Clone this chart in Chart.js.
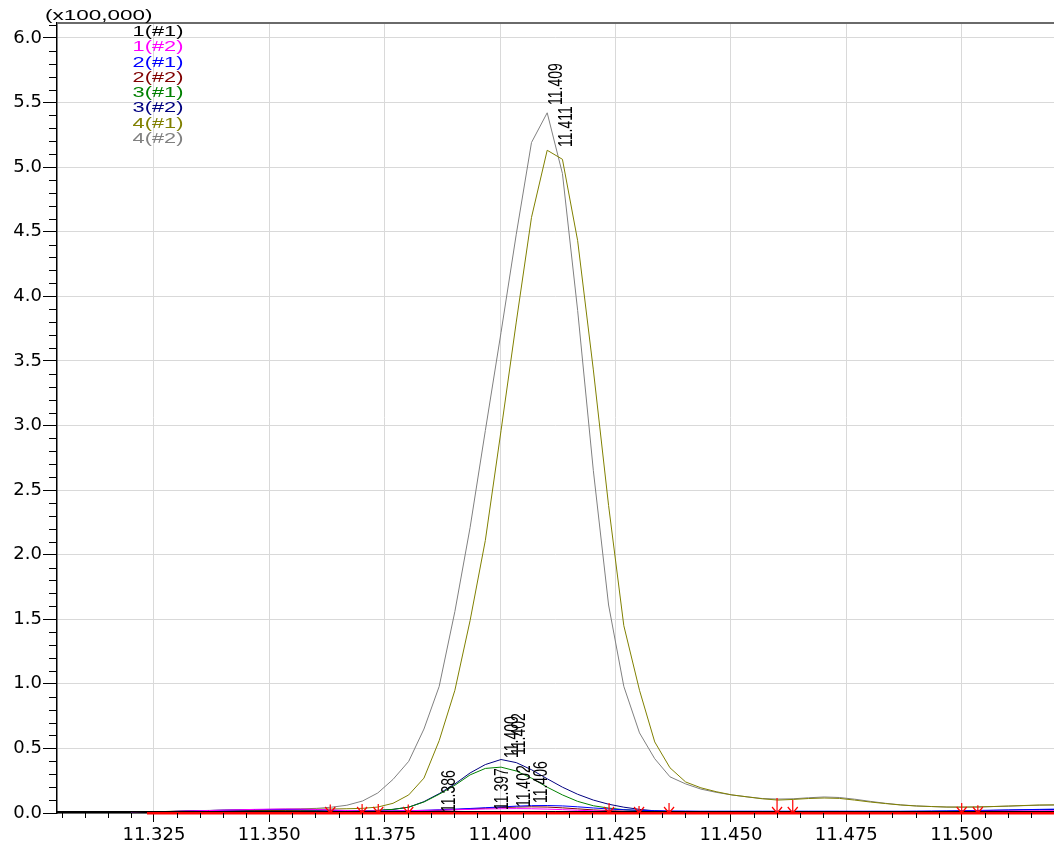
<!DOCTYPE html>
<html lang="en">
<head>
    <meta charset="UTF-8">
    <title>Chromatogram 11.30 - 11.52 min</title>
    <script src="https://cdn.jsdelivr.net/npm/chart.js"></script>
    <style>
        html, body {
            margin: 0;
            padding: 0;
            background: #ffffff;
        }

        #wrap {
            width: 1054px;
            height: 843px;
        }
    </style>
</head>
<body>

    <div id="wrap"><canvas id="chrom" width="1054" height="843"></canvas></div>

    <script>
        // Retention times (min) of the samples
        const times = [
            11.3202, 11.3235, 11.3268, 11.3302, 11.3335, 11.3368, 11.3402, 11.3435, 11.3468, 11.3502,
            11.3535, 11.3568, 11.3602, 11.3635, 11.3668, 11.3702, 11.3735, 11.3768, 11.3802, 11.3835,
            11.3868, 11.3902, 11.3935, 11.3968, 11.4002, 11.4035, 11.4068, 11.4102, 11.4135, 11.4168,
            11.4202, 11.4235, 11.4268, 11.4302, 11.4335, 11.4368, 11.4402, 11.4435, 11.4468, 11.4502,
            11.4535, 11.4568, 11.4602, 11.4635, 11.4668, 11.4702, 11.4735, 11.4768, 11.4802, 11.4835,
            11.4868, 11.4902, 11.4935, 11.4968, 11.5002, 11.5035, 11.5068, 11.5102, 11.5135, 11.5168,
            11.5202
        ];

        // Intensities (x100,000)
        const s1a = [ // 1(#1)
            0.002, 0.004, 0.005, 0.006, 0.006, 0.007, 0.007, 0.007, 0.008, 0.008,
            0.008, 0.008, 0.007, 0.007, 0.006, 0.006, 0.006, 0.007, 0.008, 0.011,
            0.013, 0.012, 0.010, 0.009, 0.009, 0.009, 0.009, 0.008, 0.008, 0.007,
            0.007, 0.006, 0.006, 0.006, 0.006, 0.006, 0.006, 0.006, 0.006, 0.006,
            0.006, 0.006, 0.006, 0.006, 0.006, 0.006, 0.006, 0.006, 0.006, 0.006,
            0.006, 0.006, 0.006, 0.006, 0.006, 0.007, 0.007, 0.008, 0.008, 0.009,
            0.009
        ];
        const s1b = [ // 1(#2)
            0.003, 0.006, 0.010, 0.013, 0.016, 0.019, 0.022, 0.025, 0.028, 0.030,
            0.031, 0.030, 0.027, 0.023, 0.019, 0.016, 0.015, 0.016, 0.018, 0.020,
            0.022, 0.025, 0.028, 0.031, 0.033, 0.034, 0.033, 0.030, 0.026, 0.021,
            0.017, 0.014, 0.012, 0.010, 0.010, 0.010, 0.010, 0.010, 0.010, 0.010,
            0.010, 0.010, 0.010, 0.010, 0.010, 0.010, 0.010, 0.010, 0.010, 0.010,
            0.010, 0.010, 0.010, 0.011, 0.012, 0.013, 0.014, 0.015, 0.016, 0.017,
            0.018
        ];
        const s2a = [ // 2(#1)
            0.003, 0.007, 0.010, 0.013, 0.016, 0.019, 0.022, 0.024, 0.026, 0.027,
            0.027, 0.026, 0.024, 0.021, 0.018, 0.016, 0.015, 0.016, 0.018, 0.021,
            0.025, 0.030, 0.035, 0.041, 0.047, 0.053, 0.057, 0.058, 0.055, 0.048,
            0.039, 0.031, 0.025, 0.021, 0.018, 0.016, 0.015, 0.014, 0.014, 0.014,
            0.014, 0.014, 0.014, 0.014, 0.014, 0.014, 0.014, 0.014, 0.014, 0.014,
            0.014, 0.015, 0.016, 0.017, 0.018, 0.020, 0.022, 0.024, 0.026, 0.028,
            0.030
        ];
        const s2b = [ // 2(#2)
            0.003, 0.006, 0.008, 0.010, 0.012, 0.013, 0.014, 0.015, 0.016, 0.016,
            0.016, 0.015, 0.014, 0.013, 0.012, 0.012, 0.012, 0.013, 0.015, 0.018,
            0.021, 0.026, 0.031, 0.037, 0.042, 0.046, 0.048, 0.046, 0.040, 0.032,
            0.024, 0.018, 0.014, 0.012, 0.011, 0.010, 0.010, 0.010, 0.010, 0.010,
            0.010, 0.010, 0.010, 0.010, 0.010, 0.010, 0.010, 0.010, 0.010, 0.010,
            0.010, 0.010, 0.010, 0.010, 0.010, 0.010, 0.010, 0.010, 0.010, 0.010,
            0.010
        ];
        const s3a = [ // 3(#1)
            0.003, 0.006, 0.008, 0.010, 0.012, 0.014, 0.016, 0.018, 0.019, 0.020,
            0.021, 0.021, 0.020, 0.018, 0.017, 0.018, 0.020, 0.028, 0.045, 0.085,
            0.145, 0.215, 0.295, 0.345, 0.355, 0.325, 0.270, 0.200, 0.140, 0.090,
            0.056, 0.038, 0.026, 0.018, 0.013, 0.011, 0.010, 0.010, 0.010, 0.010,
            0.010, 0.010, 0.010, 0.010, 0.010, 0.010, 0.010, 0.010, 0.010, 0.010,
            0.010, 0.010, 0.010, 0.010, 0.010, 0.011, 0.011, 0.012, 0.012, 0.013,
            0.013
        ];
        const s3b = [ // 3(#2)
            0.003, 0.007, 0.010, 0.012, 0.014, 0.016, 0.018, 0.020, 0.021, 0.022,
            0.023, 0.023, 0.022, 0.020, 0.018, 0.018, 0.020, 0.028, 0.045, 0.088,
            0.150, 0.225, 0.310, 0.375, 0.414, 0.390, 0.335, 0.265, 0.200, 0.145,
            0.100, 0.068, 0.045, 0.028, 0.017, 0.012, 0.010, 0.010, 0.010, 0.010,
            0.010, 0.010, 0.010, 0.010, 0.010, 0.010, 0.010, 0.010, 0.010, 0.010,
            0.010, 0.011, 0.012, 0.013, 0.015, 0.017, 0.020, 0.022, 0.024, 0.026,
            0.027
        ];
        const s4a = [ // 4(#1)
            0.004, 0.008, 0.011, 0.014, 0.017, 0.019, 0.021, 0.023, 0.025, 0.027,
            0.028, 0.029, 0.030, 0.031, 0.033, 0.036, 0.046, 0.075, 0.140, 0.270,
            0.560, 0.950, 1.490, 2.110, 2.960, 3.800, 4.610, 5.130, 5.060, 4.430,
            3.430, 2.380, 1.450, 0.950, 0.550, 0.350, 0.240, 0.195, 0.165, 0.140,
            0.125, 0.110, 0.100, 0.105, 0.112, 0.116, 0.113, 0.100, 0.085, 0.073,
            0.062, 0.054, 0.050, 0.046, 0.046, 0.047, 0.050, 0.054, 0.058, 0.062,
            0.063
        ];
        const s4b = [ // 4(#2)
            0.004, 0.008, 0.011, 0.014, 0.017, 0.020, 0.022, 0.024, 0.026, 0.028,
            0.030, 0.032, 0.036, 0.045, 0.060, 0.093, 0.155, 0.260, 0.400, 0.650,
            0.980, 1.560, 2.210, 2.960, 3.720, 4.480, 5.190, 5.420, 4.950, 3.890,
            2.650, 1.610, 0.980, 0.620, 0.420, 0.280, 0.225, 0.185, 0.160, 0.140,
            0.125, 0.112, 0.108, 0.110, 0.118, 0.124, 0.120, 0.107, 0.090, 0.075,
            0.063, 0.055, 0.050, 0.046, 0.045, 0.046, 0.050, 0.053, 0.057, 0.060,
            0.062
        ];

        const seriesNames = ['1(#1)', '1(#2)', '2(#1)', '2(#2)', '3(#1)', '3(#2)', '4(#1)', '4(#2)'];
        const seriesColors = ['#000000', '#ff00ff', '#0000ff', '#800000', '#008000', '#000080', '#808000', '#808080'];
        const seriesValues = [s1a, s1b, s2a, s2b, s3a, s3b, s4a, s4b];

        // Axis ticks
        const xTicks = [11.325, 11.350, 11.375, 11.400, 11.425, 11.450, 11.475, 11.500];
        const yTicks = [0.0, 0.5, 1.0, 1.5, 2.0, 2.5, 3.0, 3.5, 4.0, 4.5, 5.0, 5.5, 6.0];

        // Peak top labels (text, time, height where the label starts)
        const peakText = ['11.409', '11.411', '11.400', '11.402', '11.386', '11.397', '11.402', '11.406'];
        const peakTime = [11.4102, 11.4123, 11.4006, 11.4022, 11.3870, 11.3985, 11.4032, 11.4069];
        const peakValue = [5.48, 5.155, 0.426, 0.449, 0.008, 0.023, 0.046, 0.077];

        // Integration start / end markers (red arrows) and baseline
        const markTime = [11.3632, 11.3701, 11.3736, 11.3801, 11.4236, 11.4301, 11.4366, 11.4600, 11.4634, 11.5000, 11.5035];
        const markTop = [0.065, 0.070, 0.070, 0.065, 0.077, 0.055, 0.077, 0.116, 0.100, 0.077, 0.060];
        const baseTime = [11.3235, 11.5200];
        const baseValue = [0, 0];

        const textFont = '"Liberation Sans", Arial, sans-serif';
        const tickFont = { family: '"DejaVu Sans", sans-serif', size: 18 };

        // text in the original is wide, so stretch it sideways
        function wideText(ctx, txt, x, y, stretch, align) {
            ctx.save();
            ctx.translate(x, y);
            ctx.scale(stretch, 1);
            ctx.textAlign = align;
            ctx.textBaseline = 'middle';
            ctx.fillText(txt, 0, 0);
            ctx.restore();
        }

        const decor = {
            id: 'decor',
            afterDatasetsDraw(chart) {
                const ctx = chart.ctx;
                const a = chart.chartArea;
                const xs = chart.scales.x;
                const ys = chart.scales.y;
                const y0 = ys.getPixelForValue(0);

                ctx.save();
                // black axis line kept above the red baseline
                ctx.strokeStyle = '#000000';
                ctx.lineWidth = 1;
                ctx.beginPath();
                ctx.moveTo(a.left, y0 - 1.5);
                ctx.lineTo(a.right, y0 - 1.5);
                ctx.stroke();

                // red start/end arrows
                ctx.strokeStyle = '#ff0000';
                ctx.lineWidth = 1.2;
                markTime.forEach((t, i) => {
                    const px = xs.getPixelForValue(t);
                    const top = ys.getPixelForValue(markTop[i]);
                    ctx.beginPath();
                    ctx.moveTo(px, top);
                    ctx.lineTo(px, y0);
                    ctx.moveTo(px - 5, y0 - 6);
                    ctx.lineTo(px, y0);
                    ctx.lineTo(px + 5, y0 - 6);
                    ctx.stroke();
                });

                // vertical peak labels
                ctx.fillStyle = '#000000';
                ctx.font = '14px ' + textFont;
                peakText.forEach((txt, i) => {
                    const px = xs.getPixelForValue(peakTime[i]);
                    const py = ys.getPixelForValue(peakValue[i]);
                    ctx.save();
                    ctx.translate(px, py);
                    ctx.scale(1.5, 1);
                    ctx.rotate(-Math.PI / 2);
                    ctx.textAlign = 'left';
                    ctx.textBaseline = 'alphabetic';
                    ctx.fillText(txt, 0, 10);
                    ctx.restore();
                });
                ctx.restore();
            },
            afterDraw(chart) {
                const ctx = chart.ctx;
                const a = chart.chartArea;
                const xs = chart.scales.x;
                const ys = chart.scales.y;

                ctx.save();
                // frame line on top
                ctx.strokeStyle = '#6a6a6a';
                ctx.lineWidth = 2;
                ctx.beginPath();
                ctx.moveTo(a.left, a.top);
                ctx.lineTo(a.right, a.top);
                ctx.stroke();

                // minor ticks
                ctx.strokeStyle = '#000000';
                ctx.lineWidth = 1;
                ctx.beginPath();
                for (let i = 0; ; i++) {
                    const v = 11.305 + i * 0.005;
                    if (v > xs.max) break;
                    if (i % 5 === 4) continue;
                    const px = Math.round(xs.getPixelForValue(v)) + 0.5;
                    ctx.moveTo(px, a.bottom);
                    ctx.lineTo(px, a.bottom + 5);
                }
                for (let i = 1; i * 0.1 <= ys.max; i++) {
                    if (i % 5 === 0) continue;
                    const py = Math.round(ys.getPixelForValue(i * 0.1)) + 0.5;
                    ctx.moveTo(a.left - 8, py);
                    ctx.lineTo(a.left, py);
                }
                ctx.stroke();

                // multiplier of the y axis
                ctx.fillStyle = '#000000';
                ctx.font = '15px ' + textFont;
                wideText(ctx, '(x100,000)', 45, 16, 1.5, 'left');

                // legend: coloured names only
                chart.data.datasets.forEach((ds, i) => {
                    if (!ds.legend) return;
                    ctx.fillStyle = ds.borderColor;
                    wideText(ctx, ds.label, a.left + 101, 32 + (i - 1) * 15.25, 1.45, 'center');
                });
                ctx.restore();
            }
        };

        const datasets = [{
            label: 'baseline',
            data: baseTime.map((t, i) => ({ x: t, y: baseValue[i] })),
            borderColor: '#ff0000',
            borderWidth: 3,
            pointRadius: 0,
            clip: false,
            legend: false
        }];
        seriesNames.forEach((name, i) => {
            datasets.push({
                label: name,
                data: times.map((t, k) => ({ x: t, y: seriesValues[i][k] })),
                borderColor: seriesColors[i],
                borderWidth: 1,
                pointRadius: 0,
                tension: 0,
                legend: true
            });
        });

        const ctx = document.getElementById('chrom').getContext('2d');
        const chrom = new Chart(ctx, {
            type: 'line',
            data: { datasets: datasets },
            options: {
                responsive: false,
                animation: false,
                devicePixelRatio: 1,
                events: [],
                layout: {
                    padding: { top: 23, right: 0, bottom: 0, left: 0 }
                },
                plugins: {
                    legend: { display: false },
                    tooltip: { enabled: false }
                },
                scales: {
                    x: {
                        type: 'linear',
                        min: 11.304,
                        max: 11.520,
                        afterBuildTicks: scale => { scale.ticks = xTicks.map(v => ({ value: v })); },
                        afterFit: scale => { scale.height = 30; },
                        grid: {
                            color: '#d9d9d9',
                            lineWidth: 1,
                            tickLength: 9,
                            tickColor: '#000000'
                        },
                        border: { color: '#000000', width: 1.5 },
                        ticks: {
                            callback: v => v.toFixed(3),
                            font: tickFont,
                            color: '#000000',
                            padding: 3,
                            maxRotation: 0,
                            autoSkip: false
                        }
                    },
                    y: {
                        min: 0,
                        max: 6.115,
                        afterBuildTicks: scale => { scale.ticks = yTicks.map(v => ({ value: v })); },
                        afterFit: scale => { scale.width = 57; },
                        grid: {
                            color: '#d9d9d9',
                            lineWidth: 1,
                            tickLength: 14,
                            tickColor: '#000000'
                        },
                        border: { color: '#000000', width: 1.5 },
                        ticks: {
                            callback: v => v.toFixed(1),
                            font: tickFont,
                            color: '#000000',
                            padding: 1
                        }
                    }
                }
            },
            plugins: [decor]
        });
    </script>

</body>
</html>
